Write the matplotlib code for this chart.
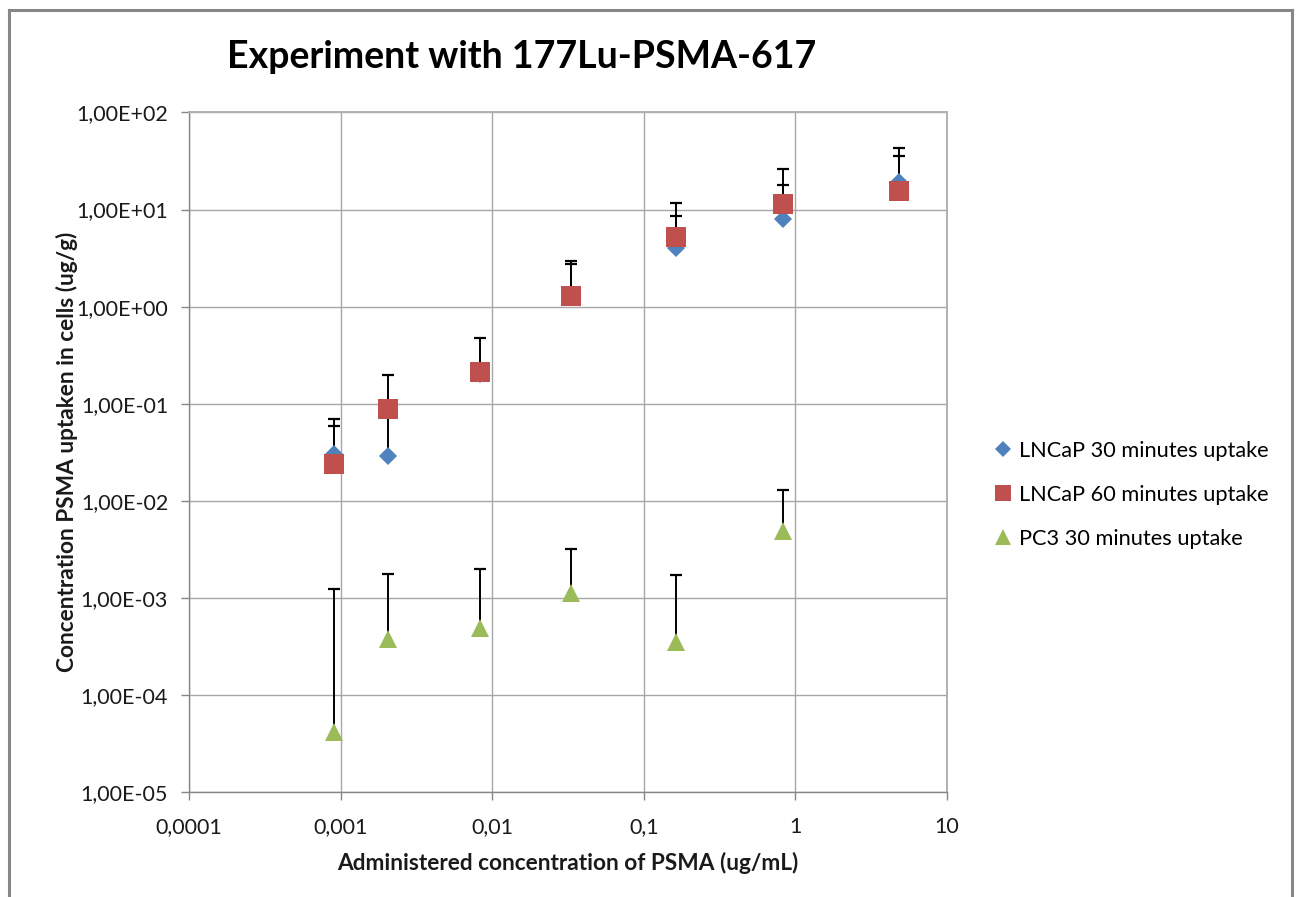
import matplotlib
matplotlib.use("Agg")
import matplotlib.pyplot as plt
from matplotlib.lines import Line2D
from matplotlib.ticker import FixedLocator, FixedFormatter, NullLocator
import numpy as np

# Administered concentration of PSMA (ug/mL)
conc = [0.0009, 0.00204, 0.0083, 0.033, 0.164, 0.83, 4.8]

# Uptake in cells (ug/g) and upper end of the error bars
lncap30 = [0.030, 0.029, 0.20, 1.25, 4.0, 8.0, 19.2]
lncap30_hi = [0.0695, 0.09, 0.22, 2.76, 8.67, 17.9, 43.1]
lncap60 = [0.0241, 0.088, 0.21, 1.29, 5.2, 11.4, 15.7]
lncap60_hi = [0.0593, 0.199, 0.475, 2.97, 11.8, 26.1, 35.7]
pc3 = [4.17e-5, 3.77e-4, 4.9e-4, 1.11e-3, 3.5e-4, 4.9e-3]
pc3_hi = [1.22e-3, 1.77e-3, 1.96e-3, 3.16e-3, 1.7e-3, 1.3e-2]

labels = ["LNCaP 30 minutes uptake", "LNCaP 60 minutes uptake", "PC3 30 minutes uptake"]
colors = ["#4F81BD", "#C0504D", "#9BBB59"]

x_ticks = [1e-4, 1e-3, 1e-2, 1e-1, 1, 10]
x_ticklabels = ["0,0001", "0,001", "0,01", "0,1", "1", "10"]
y_ticks = [1e-5, 1e-4, 1e-3, 1e-2, 1e-1, 1, 10, 100]
y_ticklabels = ["1,00E-05", "1,00E-04", "1,00E-03", "1,00E-02", "1,00E-01",
                "1,00E+00", "1,00E+01", "1,00E+02"]

FONT = "Lato"
plt.rcParams["font.family"] = [FONT, "DejaVu Sans"]

W, H = 1300, 897
fig = plt.figure(figsize=(W / 100, H / 100), dpi=100)
fig.patch.set_facecolor("white")

ax_w = 947 - 189
ax_h = 792 - 112.5
ax = fig.add_axes([189 / W, 1 - 792 / H, ax_w / W, ax_h / H])
ax.set_xscale("log")
ax.set_yscale("log")
ax.set_xlim(1e-4, 10)
ax.set_ylim(1e-5, 100)

grid_c = "#a6a6a6"
ax.xaxis.set_major_locator(FixedLocator(x_ticks))
ax.xaxis.set_major_formatter(FixedFormatter(x_ticklabels))
ax.xaxis.set_minor_locator(NullLocator())
ax.yaxis.set_major_locator(FixedLocator(y_ticks))
ax.yaxis.set_major_formatter(FixedFormatter(y_ticklabels))
ax.yaxis.set_minor_locator(NullLocator())
ax.grid(True, which="major", color=grid_c, linewidth=1.0)
ax.set_axisbelow(True)
for side in ["left", "bottom"]:
    ax.spines[side].set_color("#868686")
    ax.spines[side].set_linewidth(1.0)
for side in ["top", "right"]:
    ax.spines[side].set_color("#b0b0b0")
    ax.spines[side].set_linewidth(1.4)
ax.tick_params(axis="both", which="major", direction="out", length=6,
               width=1.0, color="#868686", labelsize=15.5, labelcolor="#1a1a1a")
ax.tick_params(axis="y", pad=9)
ax.tick_params(axis="x", pad=12)


def upper_bars(xs, ys, hi):
    ax.vlines(xs, ys, hi, colors="black", linewidth=1.4, zorder=3)
    ax.plot(xs, hi, linestyle="none", marker="_", markersize=8.5,
            markeredgewidth=1.6, color="black", zorder=3)


upper_bars(conc, lncap30, lncap30_hi)
upper_bars(conc, lncap60, lncap60_hi)
upper_bars(conc[:len(pc3)], pc3, pc3_hi)

ax.plot(conc, lncap30, linestyle="none", marker="D", markersize=9.5,
        color=colors[0], markeredgewidth=0, zorder=4)
ax.plot(conc, lncap60, linestyle="none", marker="s", markersize=14.3,
        color=colors[1], markeredgewidth=0, zorder=5)
ax.plot(conc[:len(pc3)], pc3, linestyle="none", marker="^", markersize=13,
        color=colors[2], markeredgewidth=0, zorder=4)

ax.set_xlabel("Administered concentration of PSMA (ug/mL)", fontsize=16.3,
              fontweight="bold", color="#1a1a1a")
ax.set_ylabel("Concentration PSMA uptaken in cells (ug/g)", fontsize=16.3,
              fontweight="bold", color="#1a1a1a")
ax.xaxis.set_label_coords(0.5, -(852 - 792) / ax_h)
ax.yaxis.set_label_coords(-(189 - 78) / ax_w, 0.5)

fig.text(522 / W, 1 - 57 / H, "Experiment with 177Lu-PSMA-617", fontsize=27,
         fontweight="bold", ha="center", va="center", color="black")

handles = [
    Line2D([], [], linestyle="none", marker="D", markersize=8.5, color=colors[0], markeredgewidth=0),
    Line2D([], [], linestyle="none", marker="s", markersize=11.5, color=colors[1], markeredgewidth=0),
    Line2D([], [], linestyle="none", marker="^", markersize=11.5, color=colors[2], markeredgewidth=0),
]
fig.legend(handles, labels, loc="center left", bbox_to_anchor=(986 / W, 1 - 495 / H),
           frameon=False, fontsize=15.7, handlelength=0.8, handletextpad=0.3,
           labelspacing=1.1, borderaxespad=0)

# chart area frame
frame_c = "#878787"
fig.add_artist(Line2D([9 / W, 9 / W], [0, 1 - 10 / H], color=frame_c, linewidth=2.2,
                      transform=fig.transFigure))
fig.add_artist(Line2D([9 / W, 1292 / W], [1 - 10 / H, 1 - 10 / H], color=frame_c,
                      linewidth=2.2, transform=fig.transFigure))
fig.add_artist(Line2D([1292 / W, 1292 / W], [0, 1 - 10 / H], color=frame_c, linewidth=2.2,
                      transform=fig.transFigure))

fig.savefig("out.png", dpi=100)
